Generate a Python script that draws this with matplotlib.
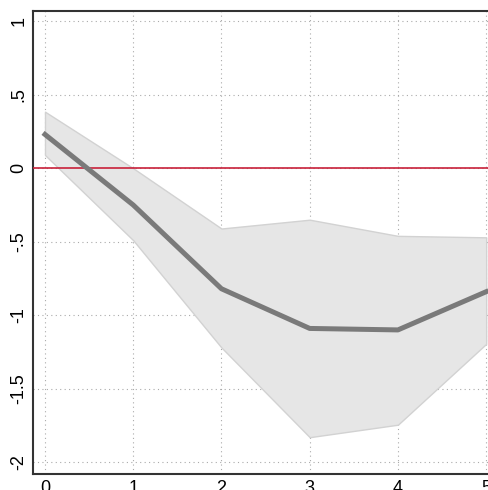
import matplotlib
matplotlib.use("Agg")
import matplotlib.pyplot as plt
import numpy as np

# horizon steps and estimates
steps = [0, 1, 2, 3, 4, 5]
estimate = [0.23, -0.25, -0.82, -1.09, -1.10, -0.84]
upper = [0.385, 0.0, -0.41, -0.35, -0.46, -0.47]
lower = [0.09, -0.49, -1.22, -1.83, -1.745, -1.195]

yticks = [1, 0.5, 0, -0.5, -1, -1.5, -2]
ylabels = ['1', '.5', '0', '-.5', '-1', '-1.5', '-2']

plt.rcParams['font.family'] = ['Liberation Sans', 'DejaVu Sans']

fig = plt.figure(figsize=(4.89, 4.90), dpi=100)
ax = fig.add_axes([33/489, 16.5/490, (495-33)/489, (473.5-11)/490])

ax.fill_between(steps, lower, upper, facecolor='#e6e6e6', edgecolor='#d2d2d2', linewidth=1, zorder=2)
ax.axhline(0, color='#c8203a', linewidth=1.2, zorder=3)
ax.plot(steps, estimate, color='#7a7a7a', linewidth=3.6, zorder=4)

ax.set_xlim(-0.136, 5.1)
ax.set_ylim(-2.077, 1.07)
ax.set_xticks(steps)
ax.set_yticks(yticks)
ax.set_yticklabels(ylabels, rotation=90, va='center')
ax.tick_params(length=0, labelsize=13, colors='#000000')
ax.tick_params(axis='y', pad=4)
ax.tick_params(axis='x', pad=5)

ax.grid(True, linestyle=(0, (1, 3)), color='#aaaaaa', linewidth=0.8, zorder=1)
ax.set_axisbelow(True)

for side in ['left', 'bottom', 'top']:
    ax.spines[side].set_color('#333333')
    ax.spines[side].set_linewidth(1.5)
ax.spines['right'].set_visible(False)

fig.savefig('out.png', dpi=100)
